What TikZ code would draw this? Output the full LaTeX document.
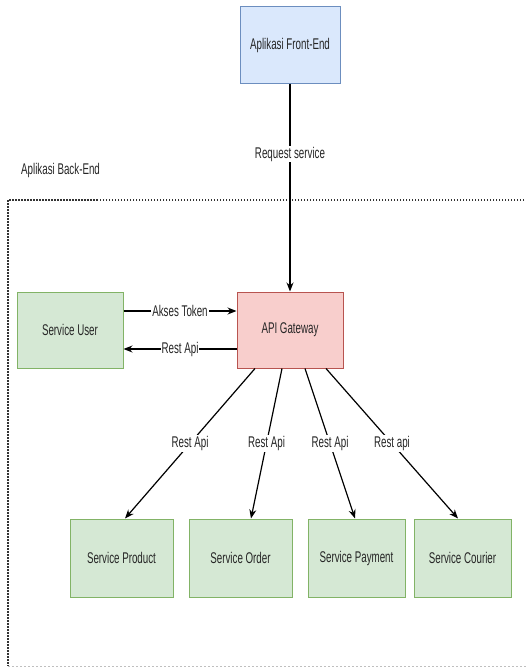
\documentclass[tikz,border=0pt]{standalone}
\usepackage{fontspec}
\setmainfont{Liberation Sans}[FakeStretch=0.63]
\usetikzlibrary{arrows.meta, positioning, shapes}
\usepackage{xcolor}

\definecolor{feFill}{HTML}{DAE8FC}
\definecolor{feLine}{HTML}{6C8EBF}
\definecolor{gwFill}{HTML}{F8CECC}
\definecolor{gwLine}{HTML}{B85450}
\definecolor{svFill}{HTML}{D5E8D4}
\definecolor{svLine}{HTML}{82B366}

\tikzset{
    box/.style={draw, line width=1pt, inner sep=0pt, text=black!85,
        font=\fontsize{15.5}{17}\selectfont},
    feBox/.style={box, fill=feFill, draw=feLine},
    gwBox/.style={box, fill=gwFill, draw=gwLine},
    svBox/.style={box, fill=svFill, draw=svLine},
    flow/.style={line width=1.2pt, -{Stealth[length=9pt,width=7pt]}},
    lbl/.style={fill=white, inner sep=1pt, text=black!85,
        font=\fontsize{15.5}{17}\selectfont}
}

\begin{document}
\begin{tikzpicture}[x=1pt, y=-1pt]
    \useasboundingbox (0,0) rectangle (526,669);

    % back-end group
    \draw[black!80, line width=1.2pt, dash pattern=on 1.5pt off 1.5pt] (530,200) -- (8,200) -- (8,666);
    \draw[black!25, line width=0.8pt, dash pattern=on 2pt off 2pt] (8,666) -- (530,666);
    \node[lbl, anchor=west] (backend) at (20,170) {Aplikasi Back-End};

    % boxes
    \node[feBox, minimum width=100pt, minimum height=76pt] (fe) at (290,45) {Aplikasi Front-End};
    \node[gwBox, minimum width=106pt, minimum height=76pt] (gw) at (290,330) {API Gateway};
    \node[svBox, minimum width=106pt, minimum height=76pt] (user) at (70,330) {Service User};
    \foreach \name/\x/\w/\txt in {prod/121.5/103/Service Product, ord/240.5/103/Service Order,
                                  pay/356.5/97/Service Payment, cour/462.5/97/Service Courier} {
        \node[svBox, minimum width=\w pt, minimum height=78pt] (\name) at (\x,558) {\txt};
    }

    % connectors
    \draw[flow] (fe) -- node[lbl, pos=0.34] {Request service} (gw);
    \draw[flow] ([yshift=19pt]user.east) -- node[lbl] {Akses Token} ([yshift=19pt]gw.west);
    \draw[flow] ([yshift=-19pt]gw.west) -- node[lbl] {Rest Api} ([yshift=-19pt]user.east);
    \foreach \to/\s/\e/\txt in {prod/-35/3.5/Rest Api, ord/-8/10.5/Rest Api,
                                pay/15/-1.5/Rest Api, cour/36/-4.5/Rest api} {
        \draw[flow] ([xshift=\s pt]gw.south) -- node[lbl] {\txt} ([xshift=\e pt]\to.north);
    }
\end{tikzpicture}
\end{document}
